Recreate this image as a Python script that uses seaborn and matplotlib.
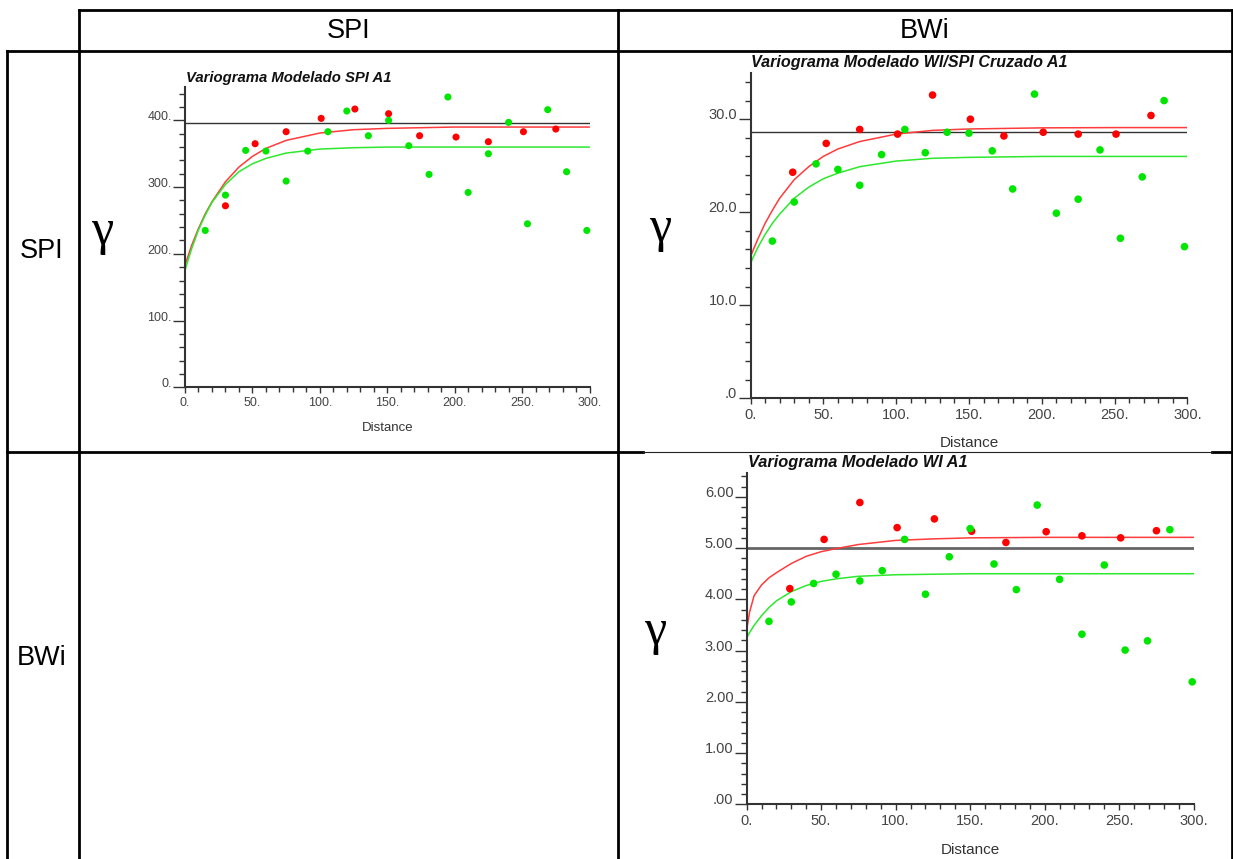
import numpy as np
import pandas as pd
import matplotlib
matplotlib.use('Agg')
import matplotlib.pyplot as plt
from matplotlib.lines import Line2D
from matplotlib.ticker import MultipleLocator, FixedLocator
import seaborn as sns

# ---- data ----
# SPI variogram (top-left cell)
spi_red_h = [30, 52, 75, 101, 126, 151, 174, 201, 225, 251, 275]
spi_red_g = [272, 365, 383, 403, 417, 410, 377, 375, 368, 383, 387]
spi_green_h = [15, 30, 45, 60, 75, 91, 106, 120, 136, 151, 166, 181, 195, 210, 225, 240, 254, 269, 283, 298]
spi_green_g = [235, 288, 355, 354, 309, 354, 383, 414, 377, 400, 362, 319, 435, 292, 350, 397, 245, 416, 323, 235]
spi_sill = 396

# WI/SPI cross variogram (top-right cell)
cross_red_h = [29, 52, 75, 101, 125, 151, 174, 201, 225, 251, 275]
cross_red_g = [24.3, 27.4, 28.9, 28.4, 32.6, 30.0, 28.2, 28.6, 28.4, 28.4, 30.4]
cross_green_h = [15, 30, 45, 60, 75, 90, 106, 120, 135, 150, 166, 180, 195, 210, 225, 240, 254, 269, 284, 298]
cross_green_g = [16.9, 21.1, 25.2, 24.6, 22.9, 26.2, 28.9, 26.4, 28.6, 28.5, 26.6, 22.5, 32.7, 19.9, 21.4, 26.7, 17.2, 23.8, 32.0, 16.3]
cross_sill = 28.6

# WI variogram (bottom-right cell)
wi_red_h = [29, 52, 76, 101, 126, 151, 174, 201, 225, 251, 275]
wi_red_g = [4.21, 5.17, 5.89, 5.40, 5.57, 5.33, 5.11, 5.32, 5.24, 5.20, 5.34]
wi_green_h = [15, 30, 45, 60, 76, 91, 106, 120, 136, 150, 166, 181, 195, 210, 225, 240, 254, 269, 284, 299]
wi_green_g = [3.57, 3.95, 4.31, 4.49, 4.36, 4.56, 5.17, 4.10, 4.83, 5.38, 4.69, 4.19, 5.84, 4.39, 3.32, 4.67, 3.01, 3.19, 5.36, 2.39]
wi_sill = 5.0

# fitted model curves
model_lags = [0, 2, 5, 10, 15, 20, 30, 40, 50, 60, 75, 100, 125, 150, 200, 250, 300]
spi_red_model = [183, 195, 213, 238, 260, 278, 308, 330, 346, 358, 370, 381, 386, 388, 390, 390, 390]
spi_green_model = [175, 189, 208, 236, 258, 277, 304, 323, 335, 343, 351, 357, 359, 360, 360, 360, 360]
cross_red_model = [15.2, 16.0, 17.1, 18.8, 20.2, 21.5, 23.5, 24.9, 26.0, 26.8, 27.6, 28.4, 28.8, 28.95, 29.07, 29.1, 29.1]
cross_green_model = [14.5, 15.2, 16.2, 17.6, 18.8, 19.8, 21.5, 22.7, 23.6, 24.2, 24.9, 25.5, 25.8, 25.9, 26.0, 26.0, 26.0]
wi_red_model = [3.40, 3.75, 4.07, 4.28, 4.42, 4.52, 4.70, 4.84, 4.93, 4.99, 5.07, 5.15, 5.18, 5.20, 5.21, 5.21, 5.21]
wi_green_model = [3.25, 3.35, 3.49, 3.68, 3.84, 3.97, 4.15, 4.27, 4.35, 4.40, 4.45, 4.48, 4.49, 4.50, 4.50, 4.50, 4.50]

header_labels = ['SPI', 'BWi']

W, H = 1233, 859

sns.set_style('white')
plt.rcParams['font.family'] = ['Liberation Sans', 'DejaVu Sans']

fig = plt.figure(figsize=(W / 100, H / 100), dpi=100)


def fx(x):
    return x / W


def fy(y):
    return 1 - y / H


def hline(y, x0, x1, lw=2.0, color='black'):
    fig.add_artist(Line2D([fx(x0), fx(x1)], [fy(y), fy(y)], lw=lw, color=color,
                          transform=fig.transFigure, solid_capstyle='projecting'))


def vline(x, y0, y1, lw=2.0, color='black'):
    fig.add_artist(Line2D([fx(x), fx(x)], [fy(y0), fy(y1)], lw=lw, color=color,
                          transform=fig.transFigure, solid_capstyle='projecting'))


# table grid
hline(10, 79, 1232)
hline(51, 7, 1232)
hline(452, 7, 643)
hline(452, 1212, 1232)
hline(451.5, 643, 1212, lw=0.8, color='#222')
vline(7, 51, 859)
vline(79, 10, 859)
vline(618, 10, 859)
vline(1232, 10, 859)

# header / row labels
fig.text(fx(348.5), fy(31), header_labels[0], ha='center', va='center', fontsize=19.5, color='black')
fig.text(fx(925), fy(31), header_labels[1], ha='center', va='center', fontsize=19.5, color='black')
fig.text(fx(42), fy(251), header_labels[0], ha='center', va='center', fontsize=19.5, color='black')
fig.text(fx(42), fy(658), header_labels[1], ha='center', va='center', fontsize=19.5, color='black')


def draw_panel(box, ytop, ymajor, ylabels, yminor, title, title_xy, gamma_xy, dist_xy,
               red_h, red_g, green_h, green_g, red_model, green_model, sill,
               sill_color='#333333', sill_lw=1.0, fs=8, title_fs=10, dot=24):
    left, right, bottom, top = box
    ax = fig.add_axes([fx(left), fy(bottom), (right - left) / W, (bottom - top) / H])
    ax.set_facecolor('none')

    pts = pd.DataFrame({'h': red_h + green_h,
                        'g': red_g + green_g,
                        'kind': ['red'] * len(red_h) + ['green'] * len(green_h)})
    curves = pd.DataFrame({'h': model_lags + model_lags,
                           'g': red_model + green_model,
                           'kind': ['red'] * len(model_lags) + ['green'] * len(model_lags)})

    ax.hlines(sill, 0, 300, color=sill_color, lw=sill_lw, zorder=1)
    sns.lineplot(data=curves, x='h', y='g', hue='kind', estimator=None, sort=False,
                 palette={'red': '#ff3b3b', 'green': '#2de82d'}, lw=1.1, legend=False, ax=ax, zorder=2)
    sns.scatterplot(data=pts, x='h', y='g', hue='kind',
                    palette={'red': '#ff0000', 'green': '#00e600'}, s=dot, edgecolor='none',
                    legend=False, ax=ax, zorder=3, clip_on=False)

    ax.set_xlim(0, 300)
    ax.set_ylim(0, ytop)
    ax.set_xlabel('')
    ax.set_ylabel('')
    for s in ['top', 'right']:
        ax.spines[s].set_visible(False)
    for s in ['left', 'bottom']:
        ax.spines[s].set_color('#333333')
        ax.spines[s].set_linewidth(1.5)

    ax.set_xticks([0, 50, 100, 150, 200, 250, 300])
    ax.set_xticklabels(['0.', '50.', '100.', '150.', '200.', '250.', '300.'])
    ax.xaxis.set_minor_locator(MultipleLocator(10))
    ax.set_yticks(ymajor)
    ax.set_yticklabels(ylabels)
    ax.yaxis.set_minor_locator(FixedLocator(yminor))

    ax.tick_params(axis='x', which='major', direction='out', length=4.5, width=1.0,
                   color='#333333', labelsize=fs, labelcolor='#444444', pad=2.5, bottom=True)
    ax.tick_params(axis='x', which='minor', direction='out', length=3.5, width=1.0,
                   color='#333333', bottom=True)
    ax.tick_params(axis='y', which='major', direction='out', length=9, width=1.0,
                   color='#333333', labelsize=fs, labelcolor='#444444', pad=0.5, left=True)
    ax.tick_params(axis='y', which='minor', direction='out', length=4, width=1.0,
                   color='#333333', left=True)
    for lab in ax.get_yticklabels():
        lab.set_va('baseline')

    fig.text(fx(title_xy[0]), fy(title_xy[1]), title, ha='left', va='center',
             fontsize=title_fs, fontweight='bold', fontstyle='italic', color='#111111')
    fig.text(fx(gamma_xy[0]), fy(gamma_xy[1]), 'γ', ha='center', va='center', color='black',
             fontsize=36, family=['Liberation Serif', 'DejaVu Serif'])
    fig.text(fx(dist_xy[0]), fy(dist_xy[1]), 'Distance', ha='center', va='center',
             fontsize=fs + 0.5, color='#333333')
    return ax


draw_panel((185, 589.5, 387.3, 87), 450, [0, 100, 200, 300, 400],
           ['0.', '100.', '200.', '300.', '400.'], list(range(0, 441, 20)),
           'Variograma Modelado SPI A1', (186, 78), (102, 232), (388, 428),
           spi_red_h, spi_red_g, spi_green_h, spi_green_g,
           spi_red_model, spi_green_model, spi_sill, fs=9, title_fs=10.7, dot=26)

draw_panel((750.5, 1187.4, 398.3, 72.7), 35, [0, 10, 20, 30],
           ['.0', '10.0', '20.0', '30.0'], list(range(0, 35, 2)),
           'Variograma Modelado WI/SPI Cruzado A1', (751, 63), (660, 229), (969, 443),
           cross_red_h, cross_red_g, cross_green_h, cross_green_g,
           cross_red_model, cross_green_model, cross_sill, fs=10.5, title_fs=11.6, dot=30)

draw_panel((746.6, 1193.7, 804.3, 473.3), 6.46, [0, 1, 2, 3, 4, 5, 6],
           ['.00', '1.00', '2.00', '3.00', '4.00', '5.00', '6.00'], list(np.arange(0, 6.41, 0.2)),
           'Variograma Modelado WI A1', (748, 463), (655, 632), (970, 850),
           wi_red_h, wi_red_g, wi_green_h, wi_green_g,
           wi_red_model, wi_green_model, wi_sill, sill_color='#666666', sill_lw=2.0,
           fs=10.5, title_fs=11.8, dot=30)

fig.savefig('out.png', dpi=100)
